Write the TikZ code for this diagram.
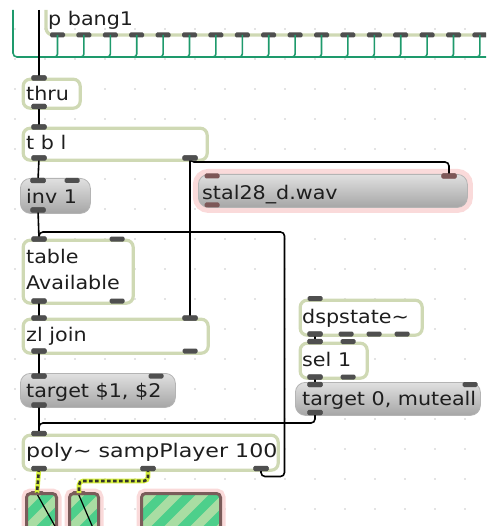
\documentclass[tikz,border=0pt]{standalone}
\usepackage{fontspec}
\newfontfamily\maxfont[FakeStretch=1.1]{DejaVu Sans}
\definecolor{objborder}{HTML}{CFD9B4}
\definecolor{portc}{HTML}{4F4F4F}
\definecolor{msgtop}{HTML}{E0E0E0}
\definecolor{msgbot}{HTML}{A6A6A6}
\definecolor{msgedge}{HTML}{B4B4B4}
\definecolor{halo}{HTML}{FADADA}
\definecolor{gcordc}{HTML}{1E9A6C}
\definecolor{sigyellow}{HTML}{D6F03C}
\definecolor{sigdark}{HTML}{34342A}
\definecolor{meterlight}{HTML}{A9DDA3}
\definecolor{meterdark}{HTML}{4DCF8B}
\definecolor{meteredge}{HTML}{7A5C5A}
\definecolor{brownport}{HTML}{7D5757}
\definecolor{griddot}{HTML}{C8C8C8}
\definecolor{textc}{HTML}{1E1E1E}

\tikzset{
  objbox/.style={draw=objborder, line width=3.2pt, fill=white, rounded corners=7pt, anchor=north west, inner sep=0pt},
  msgbox/.style={draw=msgedge, line width=0.8pt, top color=msgtop, bottom color=msgbot, rounded corners=10pt, anchor=north west, inner sep=0pt},
  port/.style={fill=portc, rounded corners=1.5pt, minimum width=15pt, minimum height=5pt, inner sep=0pt},
  bport/.style={port, fill=brownport},
  mport/.style={port, fill=meteredge, minimum width=14pt, minimum height=4pt},
  cord/.style={line width=1.6pt, black},
  gcord/.style={line width=1.6pt, gcordc},
  sig/.style={line width=2.6pt, draw=sigdark, dash pattern=on 3.5pt off 2.5pt,
    preaction={draw=sigyellow, line width=4.6pt, solid}},
  txt/.style={anchor=base west, inner sep=0pt, text=textc, font=\maxfont\fontsize{18.8pt}{22pt}\selectfont},
  meter/.style={draw=meteredge, line width=3pt, fill=meterlight, rounded corners=4pt,
    anchor=north west, inner sep=0pt, preaction={draw=halo, line width=10pt},
    path picture={
      \foreach \k in {-4,...,5}
        \draw[meterdark, line width=9pt] (path picture bounding box.south west) ++(\k*26+4,0) -- ++(80,-80);
    }},
}

\begin{document}
\begin{tikzpicture}[x=1pt, y=-1pt]
\useasboundingbox (0,0) rectangle (486,526);
\clip (0,0) rectangle (486,526);

% canvas grid
\foreach \i in {0,...,15}
  \foreach \j in {0,...,16}
    \fill[griddot] (15+30*\i, 29+30*\j) circle (0.8pt);

% subpatch p bang1, running off the top and right edges
\draw[draw=objborder, line width=3.2pt, rounded corners=7pt] (46,10) -- (46,35) -- (500,35);
\node[txt] (pb-t) at (48,26) {p bang1};
\foreach \k in {0,...,16}
  \node[port] (pb-o\k) at ({57.5+26.4*\k},35) {};

% bundle of green cords leaving its outlets
\coordinate (gtop) at (13,10);
\coordinate (gend) at (500,57);
\draw[gcord, rounded corners=4pt] (gtop) |- (gend);
\foreach \k in {0,...,16}
  \draw[gcord, rounded corners=3pt] (pb-o\k.center) |- ++(-7,22);

% objects
\node[objbox, minimum width=57pt, minimum height=29pt] (thru) at (21.6,77.6) {};
\node[txt] (thru-t) at (26,101) {thru};

\node[objbox, minimum width=184pt, minimum height=32pt] (tbl) at (21.6,126.6) {};
\node[txt] (tbl-t) at (26,150) {t b l};

\node[msgbox, minimum width=70pt, minimum height=35pt] (inv) at (20,178) {};
\node[txt] (inv-t) at (26,204) {inv 1};

\node[msgbox, minimum width=269pt, minimum height=33pt, preaction={draw=halo, line width=11pt}] (stal) at (198,174) {};
\node[txt] (stal-t) at (202,199.5) {stal28\_d.wav};

\node[objbox, minimum width=110pt, minimum height=63pt] (tab) at (21.6,238.6) {};
\node[txt] (tab-t1) at (26,263) {table};
\node[txt] (tab-t2) at (26,289) {Available};

\node[objbox, minimum width=185pt, minimum height=34pt] (zl) at (21.6,317.6) {};
\node[txt] (zl-t) at (26,341) {zl join};

\node[msgbox, minimum width=155pt, minimum height=34pt] (tg12) at (20,373) {};
\node[txt] (tg12-t) at (26,397) {target \$1, \$2};

\node[objbox, minimum width=122pt, minimum height=35pt] (dsp) at (298.6,298.6) {};
\node[txt] (dsp-t) at (302,323) {dspstate\textasciitilde};

\node[objbox, minimum width=67pt, minimum height=35pt] (sel) at (298.6,341.6) {};
\node[txt] (sel-t) at (302,366.5) {sel 1};

\node[msgbox, minimum width=185pt, minimum height=33pt] (tg0) at (295,382) {};
\node[txt] (tg0-t) at (302,405) {target 0, muteall};

\node[objbox, minimum width=255pt, minimum height=35pt] (poly) at (21.6,433.6) {};
\node[txt, xscale=1.07] (poly-t) at (26,457) {poly\textasciitilde{} sampPlayer 100};

% signal meters along the bottom
\node[meter, minimum width=30pt, minimum height=45pt] (m1) at (25,492) {};
\node[meter, minimum width=29pt, minimum height=45pt] (m2) at (68,492) {};
\node[meter, minimum width=79pt, minimum height=45pt] (m3) at (140,492) {};
\draw[line width=1.2pt] (m1.north west) ++(12,2) -- ++(19,34);
\draw[line width=1.2pt] (m2.north west) ++(10,1) -- ++(15,35);

% inlets and outlets
\node[port] (thru-i) at (39,78) {};
\node[port] (thru-o) at (39,106.5) {};
\node[port] (tbl-i1) at (39,127) {};
\node[port] (tbl-o1) at (39,158) {};
\node[port] (tbl-o2) at (190,158) {};
\node[port] (inv-i1) at (38,180.5) {};
\node[port] (inv-i2) at (72,180.5) {};
\node[port] (inv-o1) at (38,210) {};
\node[bport] (stal-i1) at (212,176) {};
\node[bport] (stal-i2) at (449,176) {};
\node[bport] (stal-o1) at (212,205) {};
\node[port] (tab-i1) at (39,239) {};
\node[port] (tab-i2) at (117,239) {};
\node[port] (tab-o1) at (39,301) {};
\node[port] (tab-o2) at (117,301) {};
\node[port] (zl-i1) at (39,318) {};
\node[port] (zl-i2) at (190,318) {};
\node[port] (zl-o1) at (39,351) {};
\node[port] (zl-o2) at (190,351) {};
\node[port] (tg12-i1) at (39,376) {};
\node[port] (tg12-i2) at (156,376) {};
\node[port] (tg12-o1) at (39,405) {};
\node[port] (dsp-i1) at (315,298.5) {};
\node[port] (dsp-o1) at (315,334) {};
\node[port] (dsp-o2) at (346,334) {};
\node[port] (dsp-o3) at (374,334) {};
\node[port] (dsp-o4) at (402,334) {};
\node[port] (sel-i1) at (315,341.5) {};
\node[port] (sel-i2) at (348,341.5) {};
\node[port] (sel-o1) at (315,377) {};
\node[port] (sel-o2) at (348,377) {};
\node[port] (tg0-i1) at (315,384.5) {};
\node[port] (tg0-i2) at (470,384.5) {};
\node[port] (tg0-o1) at (315,412.5) {};
\node[port] (poly-i1) at (39,433.5) {};
\node[port] (poly-o1) at (39,468.5) {};
\node[port] (poly-o2) at (148,468.5) {};
\node[port] (poly-o3) at (261,468.5) {};
\node[mport] (m1-i) at (37,493) {};
\node[mport] (m2-i) at (79,493) {};

% patch cords
\coordinate (topin) at (39,10);
\draw[cord] (topin) -- (thru-i.center);
\draw[cord] (thru-o.center) -- (tbl-i1.center);
\draw[cord] (tbl-o1.center) -- (inv-i1.center);
\draw[cord, rounded corners=4pt] (tbl-o2.center) -- ++(0,4) -| (stal-i2.center);
\draw[cord] (tbl-o2.center) -- (zl-i2.center);
\draw[cord] (inv-o1.center) -- (tab-i1.center);
\coordinate (fbR) at (284.5,476.5);
\coordinate (fbT) at (39,232);
\draw[cord, rounded corners=4pt] (poly-o3.center) |- (fbR) |- (fbT) -- (tab-i1.center);
\draw[cord] (tab-o1.center) -- (zl-i1.center);
\draw[cord] (zl-o1.center) -- (tg12-i1.center);
\draw[cord] (tg12-o1.center) -- (poly-i1.center);
\draw[cord] (dsp-o1.center) -- (sel-i1.center);
\draw[cord] (sel-o1.center) -- (tg0-i1.center);
\coordinate (mute) at (39,423);
\draw[cord, rounded corners=4pt] (tg0-o1.center) |- (mute) -- (poly-i1.center);
\coordinate (sigbend) at (79,481);
\draw[sig] (poly-o1.center) -- (m1-i.center);
\draw[sig, rounded corners=4pt] (poly-o2.center) |- (sigbend) -- (m2-i.center);

% ports redrawn over the cord ends
\foreach \p in {thru-i,thru-o,tbl-i1,tbl-o1,tbl-o2,inv-i1,inv-o1,tab-i1,tab-o1,zl-i1,zl-i2,zl-o1,tg12-i1,tg12-o1,dsp-o1,sel-i1,sel-o1,tg0-i1,tg0-o1,poly-i1,poly-o1,poly-o2,poly-o3}
  \fill[portc, rounded corners=1.5pt] (\p.south west) rectangle (\p.north east);
\fill[brownport, rounded corners=1.5pt] (stal-i2.south west) rectangle (stal-i2.north east);
\end{tikzpicture}
\end{document}
